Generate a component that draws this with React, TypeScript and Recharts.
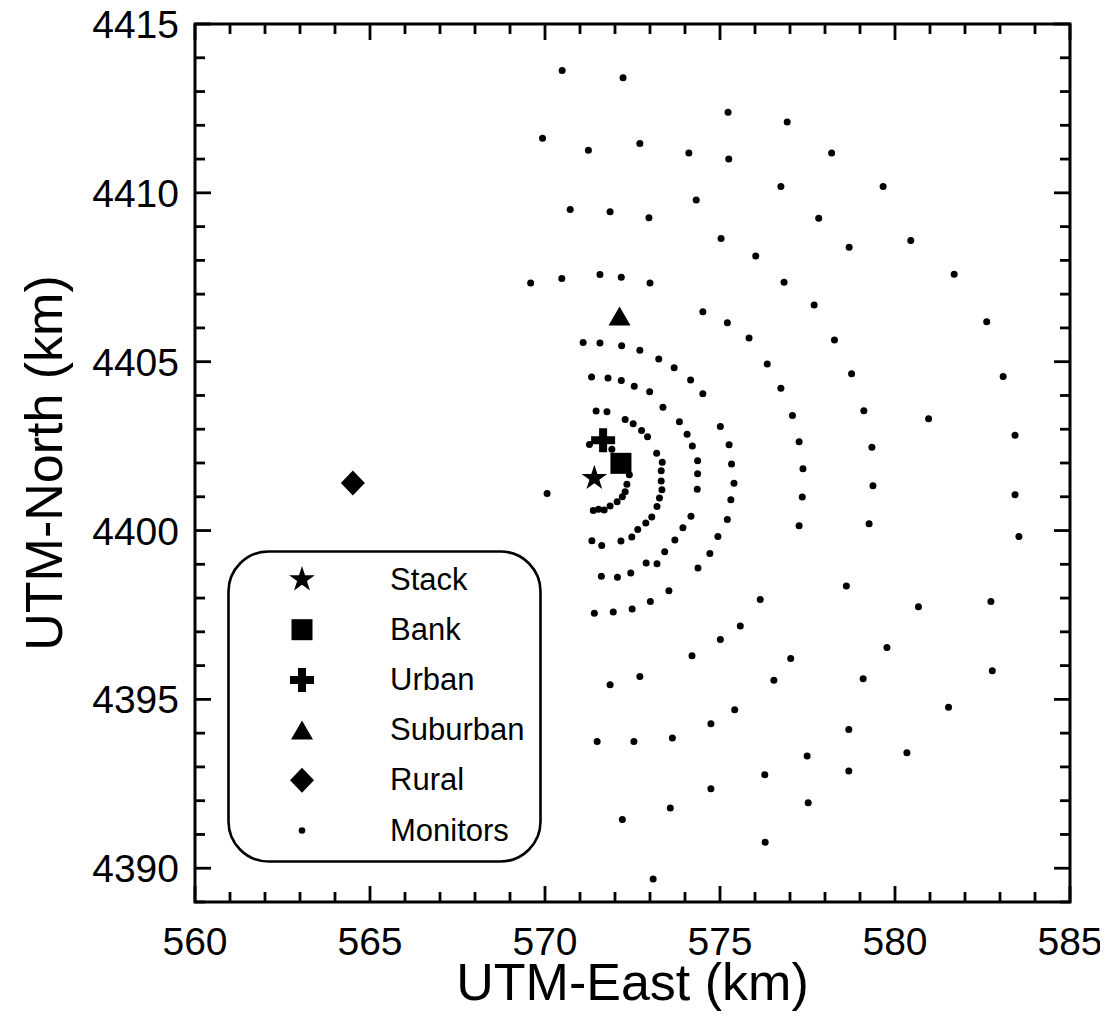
import React from 'react'
import { ScatterChart, Scatter, XAxis, YAxis, ReferenceArea, Legend, Label } from 'recharts'

// monitor receptor locations (km)
const monitorEast = [
  570.49, 572.23, 569.93, 571.24, 572.71, 574.11, 574.32, 570.72, 571.86, 572.97,
  575.03, 569.59, 570.48, 571.57, 572.18, 573.0, 574.51, 575.23, 576.92, 575.25,
  578.19, 576.74, 579.66, 577.82, 578.69, 580.45, 576.02, 576.83, 577.69, 575.21,
  575.83, 578.27, 581.69, 582.62, 571.09, 571.57, 572.19, 572.71, 573.25, 573.69,
  574.16, 574.51, 571.33, 571.8, 572.18, 572.55, 572.99, 573.37, 573.84, 574.06,
  574.21, 574.36, 574.36, 574.35, 574.17, 573.94, 573.71, 573.42, 573.2, 572.89,
  572.45, 572.07, 571.61, 574.37, 574.71, 574.94, 575.01, 573.54, 573.01, 572.49,
  571.95, 571.41, 571.46, 571.77, 572.29, 572.52, 572.76, 572.93, 573.19, 573.35,
  573.32, 573.32, 573.34, 573.27, 573.2, 573.05, 572.88, 572.65, 572.48, 572.17,
  571.62, 571.34, 571.27, 572.41, 572.34, 572.29, 572.21, 572.06, 571.86, 571.69,
  571.53, 571.38, 570.06, 571.91, 576.35, 578.76, 576.74, 577.07, 579.11, 577.26,
  579.34, 575.26, 575.33, 577.37, 575.4, 579.37, 575.31, 577.35, 575.21, 577.26,
  579.26, 578.61, 576.15, 580.67, 583.09, 580.96, 583.43, 583.43, 583.54, 582.74,
  575.01, 574.2, 571.86, 572.71, 574.74, 571.49, 572.54, 573.64, 574.74, 573.58,
  572.21, 573.09, 575.58, 579.77, 577.02, 576.54, 579.09, 575.42, 578.68, 577.49,
  580.34, 576.28, 578.68, 577.52, 576.29, 582.78, 581.53,
]
const monitorNorth = [
  4413.62, 4413.41, 4411.62, 4411.26, 4411.46, 4411.18, 4409.79, 4409.51, 4409.44, 4409.26,
  4408.65, 4407.33, 4407.46, 4407.58, 4407.5, 4407.33, 4406.48, 4412.39, 4412.1, 4411.0,
  4411.18, 4410.19, 4410.19, 4409.25, 4408.39, 4408.59, 4408.13, 4407.35, 4406.68, 4406.15,
  4405.7, 4405.64, 4407.59, 4406.18, 4405.57, 4405.55, 4405.47, 4405.34, 4405.08, 4404.82,
  4404.46, 4404.05, 4404.55, 4404.52, 4404.44, 4404.27, 4404.11, 4403.65, 4403.22, 4402.85,
  4402.5, 4402.07, 4401.68, 4401.22, 4400.42, 4400.08, 4399.72, 4399.37, 4399.02, 4399.04,
  4398.74, 4398.62, 4398.65, 4398.89, 4399.32, 4399.82, 4403.08, 4398.22, 4397.9, 4397.68,
  4397.59, 4397.55, 4403.54, 4403.52, 4403.29, 4403.16, 4402.96, 4402.78, 4402.29, 4402.02,
  4401.77, 4401.47, 4401.21, 4400.96, 4400.71, 4400.4, 4400.22, 4400.03, 4399.81, 4399.69,
  4399.56, 4399.7, 4402.55, 4401.65, 4401.37, 4401.15, 4401.0, 4400.85, 4400.73, 4400.61,
  4400.63, 4400.59, 4401.1, 4402.41, 4404.93, 4404.64, 4404.21, 4403.41, 4403.55, 4402.63,
  4402.47, 4402.54, 4401.97, 4401.83, 4401.4, 4401.33, 4400.91, 4400.99, 4400.33, 4400.14,
  4400.2, 4398.36, 4397.96, 4397.74, 4404.56, 4403.31, 4402.82, 4401.06, 4399.82, 4397.9,
  4396.77, 4396.29, 4395.43, 4395.68, 4394.28, 4393.75, 4393.75, 4393.86, 4392.35, 4391.78,
  4391.44, 4389.68, 4397.17, 4396.54, 4396.21, 4395.57, 4395.61, 4394.69, 4394.11, 4393.32,
  4393.42, 4392.77, 4392.88, 4391.94, 4390.77, 4395.85, 4394.77,
]

const siteNames = ['Stack', 'Bank', 'Urban', 'Suburban', 'Rural']
const siteEast = [571.41, 572.17, 571.66, 572.13, 564.51]
const siteNorth = [4401.55, 4401.99, 4402.67, 4406.35, 4401.41]

const xTicks = [
  560, 561, 562, 563, 564, 565, 566, 567, 568, 569, 570, 571, 572,
  573, 574, 575, 576, 577, 578, 579, 580, 581, 582, 583, 584, 585,
]
const yTicks = [
  4389, 4390, 4391, 4392, 4393, 4394, 4395, 4396, 4397, 4398, 4399, 4400, 4401, 4402,
  4403, 4404, 4405, 4406, 4407, 4408, 4409, 4410, 4411, 4412, 4413, 4414, 4415,
]

const FONT = '"Liberation Sans", Arial, Helvetica, sans-serif'
const W = 1108
const H = 1019
const MARGIN = { top: 24, right: 38, bottom: 57, left: 85 }
const Y_W = 110
const X_H = 60
const PLOT_W = W - MARGIN.left - MARGIN.right - Y_W
const PLOT_H = H - MARGIN.top - MARGIN.bottom - X_H

const monitors = monitorEast.map((x, i) => ({ x, y: monitorNorth[i] }))

// marker drawings
const drawStar = (cx: number, cy: number, r = 13.5) => {
  const pts: string[] = []
  for (let i = 0; i < 10; i++) {
    const rr = i % 2 === 0 ? r : r * 0.382
    const a = -Math.PI / 2 + (i * Math.PI) / 5
    pts.push(`${cx + rr * Math.cos(a)},${cy + rr * Math.sin(a)}`)
  }
  return <polygon points={pts.join(' ')} fill="#000" />
}
const drawSquare = (cx: number, cy: number) => (
  <rect x={cx - 10.5} y={cy - 10.5} width={21} height={21} fill="#000" />
)
const drawPlus = (cx: number, cy: number) => (
  <path
    d={`M${cx - 4},${cy - 12}h8v8h8v8h-8v8h-8v-8h-8v-8h8z`}
    fill="#000"
  />
)
const drawTriangle = (cx: number, cy: number) => (
  <polygon
    points={`${cx},${cy - 9.5} ${cx + 11},${cy + 9.5} ${cx - 11},${cy + 9.5}`}
    fill="#000"
  />
)
const drawDiamond = (cx: number, cy: number) => (
  <polygon
    points={`${cx},${cy - 12.5} ${cx + 12},${cy} ${cx},${cy + 12.5} ${cx - 12},${cy}`}
    fill="#000"
  />
)
const drawDot = (cx: number, cy: number, r = 3.5) => <circle cx={cx} cy={cy} r={r} fill="#000" />

const siteShapes = [drawStar, drawSquare, drawPlus, drawTriangle, drawDiamond]

const XTick = (props: any) => {
  const { x, y, payload } = props
  const major = payload.value % 5 === 0
  const len = major ? 16 : 10
  return (
    <g>
      <line x1={x} x2={x} y1={y} y2={y - len} stroke="#000" strokeWidth={2.8} />
      <line x1={x} x2={x} y1={y - PLOT_H} y2={y - PLOT_H + len} stroke="#000" strokeWidth={2.8} />
      {major && (
        <text x={x} y={y + 53} textAnchor="middle" fontSize={39} fontFamily={FONT} fill="#000">
          {payload.value}
        </text>
      )}
    </g>
  )
}

const YTick = (props: any) => {
  const { x, y, payload } = props
  const major = payload.value % 5 === 0
  const len = major ? 16 : 10
  const ax = x + 16
  return (
    <g>
      <line x1={ax} x2={ax + len} y1={y} y2={y} stroke="#000" strokeWidth={2.8} />
      <line x1={ax + PLOT_W} x2={ax + PLOT_W - len} y1={y} y2={y} stroke="#000" strokeWidth={2.8} />
      {major && (
        <text x={x} y={y + 14} textAnchor="end" fontSize={39} fontFamily={FONT} fill="#000">
          {payload.value}
        </text>
      )}
    </g>
  )
}

const LegendBox = () => {
  const rows = [...siteNames, 'Monitors']
  const shapes = [...siteShapes, (cx: number, cy: number) => drawDot(cx, cy, 3.3)]
  return (
    <svg width={316} height={314}>
      <rect x={1.5} y={1.5} width={312} height={310} rx={40} ry={40} fill="#fff" stroke="#000" strokeWidth={2.6} />
      {rows.map((name, i) => {
        const cy = 29.5 + i * 50.2
        return (
          <g key={name}>
            {shapes[i](75, cy)}
            <text x={163} y={cy + 10} fontSize={31} fontFamily={FONT} fill="#000">
              {name}
            </text>
          </g>
        )
      })}
    </svg>
  )
}

export default function App() {
  const xTitle = () => (
    <text x={MARGIN.left + Y_W + PLOT_W / 2} y={1000} textAnchor="middle" fontSize={52} fontFamily={FONT} fill="#000">
      UTM-East (km)
    </text>
  )
  const yTitle = () => {
    const cx = 62
    const cy = MARGIN.top + PLOT_H / 2
    return (
      <text x={cx} y={cy} transform={`rotate(-90 ${cx} ${cy})`} textAnchor="middle" fontSize={52} fontFamily={FONT} fill="#000">
        UTM-North (km)
      </text>
    )
  }

  return (
    <div style={{ width: W, height: H, margin: -8, background: '#fff' }}>
      <ScatterChart width={W} height={H} margin={MARGIN}>
        <XAxis
          type="number"
          dataKey="x"
          domain={[560, 585]}
          ticks={xTicks}
          interval={0}
          tick={XTick}
          tickLine={false}
          axisLine={false}
          tickSize={0}
          tickMargin={0}
          height={X_H}
          label={<Label content={xTitle} />}
        />
        <YAxis
          type="number"
          dataKey="y"
          domain={[4389, 4415]}
          ticks={yTicks}
          interval={0}
          tick={YTick}
          tickLine={false}
          axisLine={false}
          tickSize={0}
          tickMargin={16}
          width={Y_W}
          label={<Label content={yTitle} />}
        />
        <ReferenceArea x1={560} x2={585} y1={4389} y2={4415} fill="none" stroke="#000" strokeWidth={3} />
        <Scatter
          name="Monitors"
          data={monitors}
          isAnimationActive={false}
          shape={(p: any) => drawDot(p.cx, p.cy)}
        />
        {siteNames.map((name, i) => (
          <Scatter
            key={name}
            name={name}
            data={[{ x: siteEast[i], y: siteNorth[i] }]}
            isAnimationActive={false}
            shape={(p: any) => siteShapes[i](p.cx, p.cy)}
          />
        ))}
        <Legend
          layout="vertical"
          align="center"
          verticalAlign="middle"
          content={LegendBox}
          wrapperStyle={{ left: 227, top: 550, width: 316, height: 314 }}
        />
      </ScatterChart>
    </div>
  )
}
